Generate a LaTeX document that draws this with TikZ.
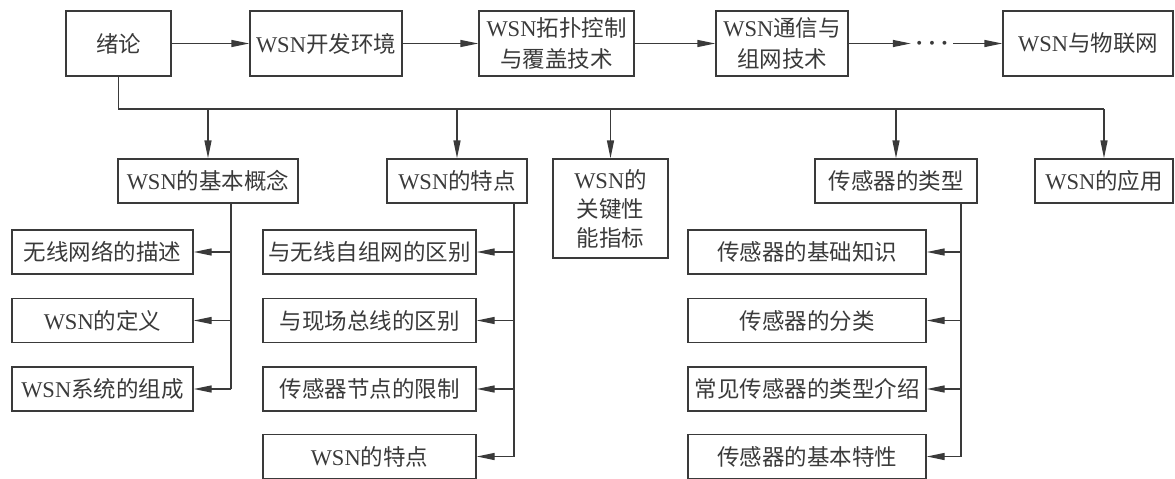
\documentclass[tikz,border=0pt]{standalone}
\usepackage{fontspec}
\setmainfont{Noto Sans CJK SC}
\newfontfamily\lat{Liberation Serif}
\newcommand\wsn{{\lat WSN}}
\usetikzlibrary{arrows.meta}
\definecolor{ink}{HTML}{3A3A3A}
\begin{document}
\begin{tikzpicture}[x=1pt,y=-1pt,
  box/.style={draw=ink, line width=1.4pt, text=ink, inner sep=0pt, align=center,
    font=\fontsize{22.5}{31}\selectfont},
  toprow/.style={box, minimum height=65pt},
  midrow/.style={box, minimum height=44pt},
  leaf/.style={box, minimum height=44pt},
  conn/.style={draw=ink, line width=1.4pt},
  arr/.style={conn, -{Triangle[length=18pt,width=7pt]}},
]
\useasboundingbox (0,0) rectangle (1175,479);

% top row
\node[toprow, minimum width=105pt] (n0) at (118.5,43.5) {绪论};
\node[toprow, minimum width=152pt] (n1) at (326,43.5) {\wsn 开发环境};
\node[toprow, minimum width=155pt] (n2) at (556.5,43.5) {\wsn 拓扑控制\\与覆盖技术};
\node[toprow, minimum width=132pt] (n3) at (782,43.5) {\wsn 通信与\\组网技术};
\node[inner sep=0pt, minimum width=42pt, text=ink, font=\fontsize{27}{28}\selectfont\boldmath] (dots) at (932,43.5) {$\cdots$};
\node[toprow, minimum width=170pt] (n5) at (1088,43.5) {\wsn 与物联网};

\draw[arr] (n0) -- (n1);
\draw[arr] (n1) -- (n2);
\draw[arr] (n2) -- (n3);
\draw[arr] (n3) -- (dots);
\draw[arr] (dots) -- (n5);

% second row
\node[midrow, minimum width=180pt] (a1) at (208,181) {\wsn 的基本概念};
\node[midrow, minimum width=140pt] (a2) at (457,181) {\wsn 的特点};
\node[box, minimum width=115pt, minimum height=99pt, font=\fontsize{22.5}{29}\selectfont] (a3) at (610.5,208.5) {\wsn 的\\关键性\\能指标};
\node[midrow, minimum width=162pt] (a4) at (896,181) {传感器的类型};
\node[midrow, minimum width=138pt] (a5) at (1104,181) {\wsn 的应用};

\coordinate (bus) at (0,109);
\draw[conn] (n0.south) |- (a5.north |- bus);
\foreach \n in {a1,a2,a3,a4,a5}
  \draw[arr] (\n.north |- bus) -- (\n.north);

% children of a1
\node[leaf, minimum width=181pt] (b1) at (102.5,252) {无线网络的描述};
\node[leaf, minimum width=181pt] (b2) at (102.5,320.5) {\wsn 的定义};
\node[leaf, minimum width=181pt] (b3) at (102.5,389) {\wsn 系统的组成};
\coordinate (s1) at (231,0);
\draw[conn] (a1.south -| s1) -- (b3.east -| s1);
\foreach \n in {b1,b2,b3}
  \draw[arr] (\n.east -| s1) -- (\n.east);

% children of a2
\node[leaf, minimum width=213pt] (c1) at (369.5,252) {与无线自组网的区别};
\node[leaf, minimum width=213pt] (c2) at (369.5,320.5) {与现场总线的区别};
\node[leaf, minimum width=213pt] (c3) at (369.5,389) {传感器节点的限制};
\node[leaf, minimum width=213pt] (c4) at (369.5,456.5) {\wsn 的特点};
\coordinate (s2) at (514,0);
\draw[conn] (a2.south -| s2) -- (c4.east -| s2);
\foreach \n in {c1,c2,c3,c4}
  \draw[arr] (\n.east -| s2) -- (\n.east);

% children of a4
\node[leaf, minimum width=238pt] (d1) at (807,252) {传感器的基础知识};
\node[leaf, minimum width=238pt] (d2) at (807,320.5) {传感器的分类};
\node[leaf, minimum width=238pt] (d3) at (807,389) {常见传感器的类型介绍};
\node[leaf, minimum width=238pt] (d4) at (807,456.5) {传感器的基本特性};
\coordinate (s3) at (961,0);
\draw[conn] (a4.south -| s3) -- (d4.east -| s3);
\foreach \n in {d1,d2,d3,d4}
  \draw[arr] (\n.east -| s3) -- (\n.east);
\end{tikzpicture}
\end{document}
